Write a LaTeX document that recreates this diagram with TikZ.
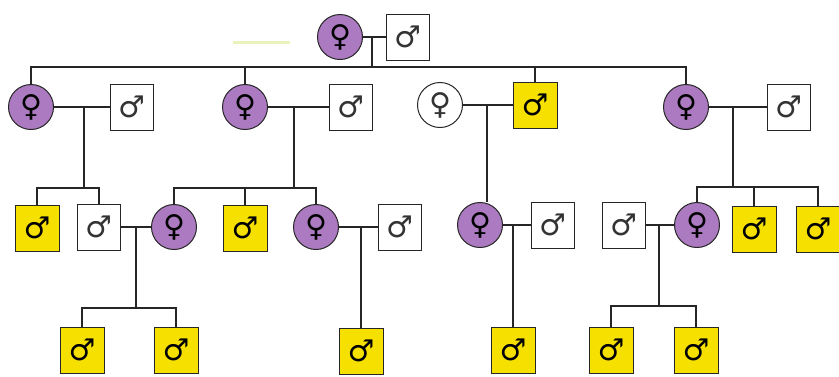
\documentclass[tikz,border=0pt]{standalone}
\usepackage{fontspec}
\newfontfamily\symfont{DejaVu Sans}
\definecolor{purp}{RGB}{172,122,192}
\definecolor{yel}{RGB}{246,224,0}
\definecolor{hl}{RGB}{236,242,190}
\tikzset{
  person/.style={draw=black!85, line width=1pt, inner sep=0pt, font=\symfont\fontsize{30}{30}\selectfont},
  fem/.style={person, circle, minimum size=45pt, fill=purp, font=\symfont\bfseries\fontsize{30}{30}\selectfont, text=black},
  femw/.style={person, circle, minimum size=45pt, fill=white, text=black!80},
  malew/.style={person, rectangle, minimum width=43pt, minimum height=46pt, fill=white, text=black!80},
  maley/.style={person, rectangle, minimum width=44pt, minimum height=46pt, fill=yel, font=\symfont\bfseries\fontsize{30}{30}\selectfont, text=black},
  link/.style={draw=black!85, line width=1.3pt},
}
\begin{document}
\begin{tikzpicture}[x=1pt,y=-1pt]
\useasboundingbox (0,0) rectangle (839,376);
\fill[white] (0,0) rectangle (839,376);
\draw[hl, line width=3pt] (233,42) -- (290,42);
% Generation I
\node[fem] (f0) at (340,37) {♀};
\node[malew] (m0) at (408,37) {♂};
% Generation II
\node[fem] (f1) at (31,107) {♀};
\node[malew] (m1) at (132,107) {♂};
\node[fem] (f2) at (245,107) {♀};
\node[malew] (m2) at (351,107) {♂};
\node[femw] (f3) at (440,105) {♀};
\node[maley] (m3) at (535,105) {♂};
\node[fem] (f4) at (686,107) {♀};
\node[malew] (m4) at (789,107) {♂};
% Generation III
\node[maley] (a1) at (37,228) {♂};
\node[malew] (a2) at (99,227) {♂};
\node[fem] (b1) at (174,227) {♀};
\node[maley] (b2) at (245,228) {♂};
\node[fem] (b3) at (316,227) {♀};
\node[malew] (s3) at (400,227) {♂};
\node[fem] (c1) at (480,225) {♀};
\node[malew] (s4) at (553,225) {♂};
\node[malew] (s5) at (624,225) {♂};
\node[fem] (d1) at (697,225) {♀};
\node[maley] (d2) at (754,229) {♂};
\node[maley] (d3) at (818,229) {♂};
% Generation IV
\node[maley] (e1) at (82,350) {♂};
\node[maley] (e2) at (176,350) {♂};
\node[maley] (e3) at (361,351) {♂};
\node[maley] (e4) at (513,350) {♂};
\node[maley] (e5) at (611,350) {♂};
\node[maley] (e6) at (696,350) {♂};
% junction points
\coordinate (j0) at (372,37);  \coordinate (k0) at (372,67);
\coordinate (j1) at (84,107);  \coordinate (k1) at (84,188);
\coordinate (j2) at (294,107); \coordinate (k2) at (294,188);
\coordinate (j3) at (487,105);
\coordinate (j4) at (733,107); \coordinate (k4) at (733,187);
\coordinate (j5) at (136,227); \coordinate (k5) at (136,308);
\coordinate (j6) at (361,227);
\coordinate (j7) at (513,225);
\coordinate (j8) at (659,225); \coordinate (k8) at (659,306);
% Generation I connectors
\draw[link] (f0.east) -- (m0.west);
\draw[link] (j0) -- (k0);
\draw[link] (f1.north) |- (k0) -| (f4.north);
\draw[link] (f2.north) -- (f2.north |- k0);
\draw[link] (m3.north) -- (m3.north |- k0);
% Generation II connectors
\draw[link] (f1.east) -- (m1.west);
\draw[link] (j1) -- (k1);
\draw[link] (a1.north) |- (k1) -| (a2.north);
\draw[link] (f2.east) -- (m2.west);
\draw[link] (j2) -- (k2);
\draw[link] (b1.north) |- (k2) -| (b3.north);
\draw[link] (b2.north) -- (b2.north |- k2);
\draw[link] (f3.east) -- (m3.west);
\draw[link] (j3) -- (j3 |- c1.north);
\draw[link] (f4.east) -- (m4.west);
\draw[link] (j4) -- (k4);
\draw[link] (d1.north) |- (k4) -| (d3.north);
\draw[link] (d2.north) -- (d2.north |- k4);
% Generation III connectors
\draw[link] (a2.east) -- (b1.west);
\draw[link] (j5) -- (k5);
\draw[link] (e1.north) |- (k5) -| (e2.north);
\draw[link] (b3.east) -- (s3.west);
\draw[link] (j6) -- (e3.north);
\draw[link] (c1.east) -- (s4.west);
\draw[link] (j7) -- (e4.north);
\draw[link] (s5.east) -- (d1.west);
\draw[link] (j8) -- (k8);
\draw[link] (e5.north) |- (k8) -| (e6.north);
\end{tikzpicture}
\end{document}
